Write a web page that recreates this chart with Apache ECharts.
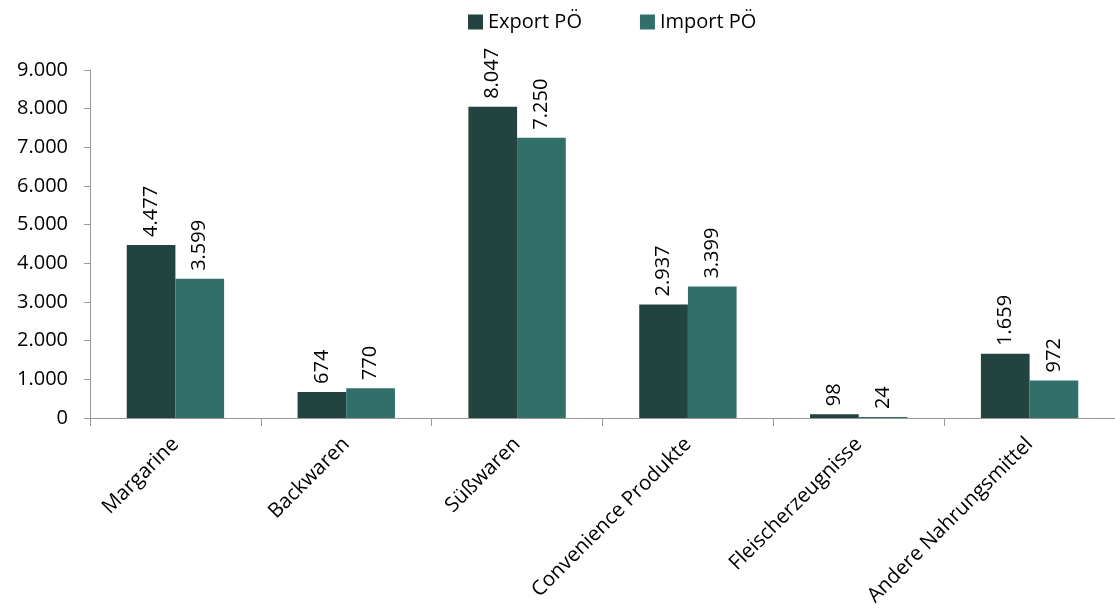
<!DOCTYPE html>
<html>
<head>
<meta charset="utf-8">
<script src="https://cdn.jsdelivr.net/npm/echarts@6/dist/echarts.min.js"></script>
<style>
  html, body { margin: 0; padding: 0; background: #fff; }
  #chart { width: 1115px; height: 612px; }
</style>
</head>
<body>
<div id="chart"></div>
<script>
// Kategorien und Werte
var categories = ['Margarine', 'Backwaren', 'Süßwaren', 'Convenience Produkte', 'Fleischerzeugnisse', 'Andere Nahrungsmittel']
var exportPO = [4477, 674, 8047, 2937, 98, 1659]
var importPO = [3599, 770, 7250, 3399, 24, 972]
var yTicks = [0, 1000, 2000, 3000, 4000, 5000, 6000, 7000, 8000, 9000]

function fmt(v) {
  return String(v).replace(/\B(?=(\d{3})+(?!\d))/g, '.')
}

var font = "'Open Sans', 'Liberation Sans', sans-serif"

var myChart = echarts.init(document.getElementById('chart'))

var labelStyle = {
  show: true,
  position: 'top',
  rotate: 90,
  align: 'left',
  verticalAlign: 'middle',
  distance: 8,
  fontSize: 20,
  fontFamily: font,
  color: '#000',
  formatter: function (p) { return fmt(p.value) }
}

var option = {
  animation: false,
  legend: {
    top: 7,
    left: 463,
    itemWidth: 15,
    itemHeight: 15,
    itemGap: 58,
    icon: 'rect',
    textStyle: { fontSize: 20, fontFamily: font, color: '#000' },
    data: ['Export PÖ', 'Import PÖ']
  },
  grid: { left: 90, right: 0, top: 70, bottom: 194 },
  xAxis: {
    type: 'category',
    data: categories,
    axisLine: { lineStyle: { color: '#999' } },
    axisTick: { show: true, length: 8, lineStyle: { color: '#999' } },
    axisLabel: {
      rotate: 45,
      fontSize: 20.5,
      fontFamily: font,
      color: '#000',
      margin: 23
    }
  },
  yAxis: {
    type: 'value',
    min: 0,
    max: 9000,
    interval: 1000,
    splitLine: { show: false },
    axisLine: { show: true, lineStyle: { color: '#999' } },
    axisTick: { show: true, length: 6, lineStyle: { color: '#999' } },
    axisLabel: {
      fontSize: 20,
      fontFamily: font,
      color: '#000',
      margin: 22,
      formatter: function (v) { return yTicks.indexOf(v) >= 0 ? fmt(v) : '' }
    }
  },
  series: [
    {
      name: 'Export PÖ',
      type: 'bar',
      data: exportPO,
      barGap: '0%',
      barCategoryGap: '43%',
      itemStyle: { color: '#22433f' },
      label: labelStyle
    },
    {
      name: 'Import PÖ',
      type: 'bar',
      data: importPO,
      itemStyle: { color: '#336f69' },
      label: labelStyle
    }
  ]
}

myChart.setOption(option)
</script>
</body>
</html>
